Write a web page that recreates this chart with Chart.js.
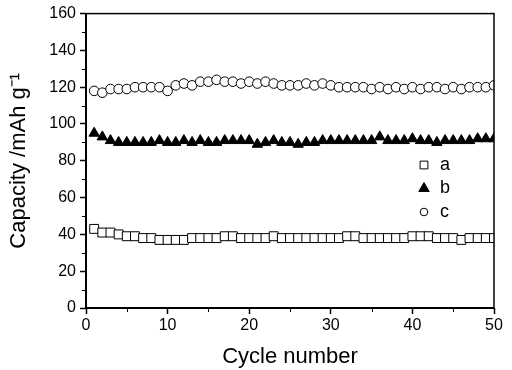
<!DOCTYPE html>
<html>
<head>
<meta charset="utf-8">
<script src="https://cdn.jsdelivr.net/npm/chart.js@4"></script>
<style>
  body { margin: 0; background: #fff; }
  #wrap { width: 512px; height: 370px; }
</style>
</head>
<body>
<div id="wrap"><canvas id="capChart"></canvas></div>
<script>
const cycles = [
  1, 2, 3, 4, 5, 6, 7, 8, 9, 10,
  11, 12, 13, 14, 15, 16, 17, 18, 19, 20,
  21, 22, 23, 24, 25, 26, 27, 28, 29, 30,
  31, 32, 33, 34, 35, 36, 37, 38, 39, 40,
  41, 42, 43, 44, 45, 46, 47, 48, 49, 50
];
const seriesA = [
  43, 41, 41, 40, 39, 39, 38, 38, 37, 37,
  37, 37, 38, 38, 38, 38, 39, 39, 38, 38,
  38, 38, 39, 38, 38, 38, 38, 38, 38, 38,
  38, 39, 39, 38, 38, 38, 38, 38, 38, 39,
  39, 39, 38, 38, 38, 37, 38, 38, 38, 38
];
const seriesB = [
  95, 93, 91, 90, 90, 90, 90, 90, 91, 90,
  90, 91, 90, 91, 90, 90, 91, 91, 91, 91,
  89, 90, 91, 90, 90, 89, 90, 90, 91, 91,
  91, 91, 91, 91, 91, 93, 91, 91, 91, 92,
  91, 91, 90, 91, 91, 91, 91, 92, 92, 92
];
const seriesC = [
  118, 117, 119, 119, 119, 120, 120, 120, 120, 118,
  121, 122, 121, 123, 123, 124, 123, 123, 122, 123,
  122, 123, 122, 121, 121, 121, 122, 121, 122, 121,
  120, 120, 120, 120, 119, 120, 119, 120, 119, 120,
  119, 120, 120, 119, 120, 119, 120, 120, 120, 121
];
const seriesNames = ['a', 'b', 'c'];
const yTicks = [0, 20, 40, 60, 80, 100, 120, 140, 160];
const xTicks = [0, 10, 20, 30, 40, 50];

const toPoints = (vals) => vals.map((v, i) => ({ x: cycles[i], y: v }));

// frame round the plot + minor ticks
const framePlugin = {
  id: 'frame',
  afterDraw(chart) {
    const { ctx, chartArea: a, scales } = chart;
    ctx.save();
    ctx.strokeStyle = '#000';
    ctx.lineWidth = 1.5;
    ctx.strokeRect(a.left, a.top, a.right - a.left, a.bottom - a.top);
    ctx.lineWidth = 2;
    ctx.beginPath();
    ctx.moveTo(a.left, a.top);
    ctx.lineTo(a.left, a.bottom);
    ctx.lineTo(a.right, a.bottom);
    ctx.stroke();
    ctx.lineWidth = 1;
    ctx.beginPath();
    for (let v = 5; v < 50; v += 10) {
      const px = Math.round(scales.x.getPixelForValue(v)) + 0.5;
      ctx.moveTo(px, a.bottom);
      ctx.lineTo(px, a.bottom + 4);
    }
    for (let v = 10; v < 160; v += 20) {
      const py = Math.round(scales.y.getPixelForValue(v)) + 0.5;
      ctx.moveTo(a.left, py);
      ctx.lineTo(a.left - 4, py);
    }
    ctx.stroke();
    ctx.restore();
  }
};

// legend inside the plot
const legendSizes = [5.5, 6, 3.8];
const legendPlugin = {
  id: 'insideLegend',
  afterDatasetsDraw(chart) {
    const { ctx } = chart;
    ctx.save();
    ctx.font = '18px "Liberation Sans", Arial, sans-serif';
    ctx.textBaseline = 'middle';
    chart.data.datasets.forEach((ds, i) => {
      const y = 165 + i * 23.5;
      ctx.strokeStyle = '#000';
      ctx.fillStyle = ds.pointBackgroundColor;
      ctx.lineWidth = 1;
      Chart.helpers.drawPoint(ctx, { pointStyle: ds.pointStyle, radius: legendSizes[i], rotation: 0, borderWidth: 1 }, 424, y);
      ctx.fillStyle = '#000';
      ctx.fillText(ds.label, 440, y);
    });
    ctx.restore();
  }
};

const ctx1 = document.getElementById('capChart');

new Chart(ctx1, {
  type: 'scatter',
  data: {
    datasets: [{
      label: seriesNames[0],
      data: toPoints(seriesA),
      pointStyle: 'rect',
      pointRadius: 6.3,
      pointBorderWidth: 1,
      pointBorderColor: '#000',
      pointBackgroundColor: '#fff'
    }, {
      label: seriesNames[1],
      data: toPoints(seriesB),
      pointStyle: 'triangle',
      pointRadius: 6,
      pointBorderWidth: 1,
      pointBorderColor: '#000',
      pointBackgroundColor: '#000'
    }, {
      label: seriesNames[2],
      data: toPoints(seriesC),
      pointStyle: 'circle',
      pointRadius: 4.8,
      pointBorderWidth: 1,
      pointBorderColor: '#000',
      pointBackgroundColor: '#fff'
    }]
  },
  options: {
    responsive: true,
    maintainAspectRatio: false,
    animation: false,
    layout: { padding: { top: 8, right: 18, left: 0, bottom: 0 } },
    plugins: {
      legend: { display: false },
      tooltip: { enabled: false }
    },
    scales: {
      x: {
        type: 'linear',
        min: 0,
        max: 50,
        afterBuildTicks: (scale) => { scale.ticks = xTicks.map(v => ({ value: v })); },
        afterFit: (scale) => { scale.height = 62; },
        grid: { drawOnChartArea: false, tickLength: 6, color: '#000', tickWidth: 1.5 },
        border: { display: false },
        ticks: {
          color: '#000',
          padding: 2,
          font: { family: '"Liberation Sans", Arial, sans-serif', size: 16 }
        },
        title: {
          display: true,
          text: 'Cycle number',
          color: '#000',
          padding: { top: 2, bottom: 0 },
          font: { family: '"Liberation Sans", Arial, sans-serif', size: 22 }
        }
      },
      y: {
        min: 0,
        max: 160,
        afterBuildTicks: (scale) => { scale.ticks = yTicks.map(v => ({ value: v })); },
        afterFit: (scale) => { scale.width = 86; },
        grid: { drawOnChartArea: false, tickLength: 6, color: '#000', tickWidth: 1.5 },
        border: { display: false },
        ticks: {
          color: '#000',
          padding: 4,
          font: { family: '"Liberation Sans", Arial, sans-serif', size: 16 }
        },
        title: {
          display: true,
          text: 'Capacity /mAh g\u207B\u00B9',
          color: '#000',
          padding: { top: 6, bottom: 4 },
          font: { family: '"Liberation Sans", Arial, sans-serif', size: 22 }
        }
      }
    }
  },
  plugins: [framePlugin, legendPlugin]
});
</script>
</body>
</html>
